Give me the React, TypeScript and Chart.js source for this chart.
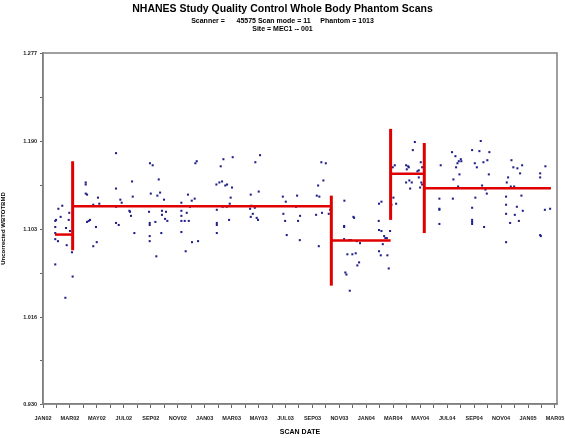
import { useEffect, useRef } from 'react';
import { Chart, registerables } from 'chart.js';

Chart.register(...registerables);

// x values: months since JAN 2002 (0 = JAN02, 38 = MAR05)
const monthLabels = ['JAN02', 'MAR02', 'MAY02', 'JUL02', 'SEP02', 'NOV02', 'JAN03', 'MAR03', 'MAY03', 'JUL03',
  'SEP03', 'NOV03', 'JAN04', 'MAR04', 'MAY04', 'JUL04', 'SEP04', 'NOV04', 'JAN05', 'MAR05'];
const yMajorTicks = [0.930, 1.016, 1.103, 1.190, 1.277];

const months2002 = [
  5.42, 7.94, 8.14, 11.41, 11.31, 3.17, 3.17, 6.61, 8.59, 5.42,
  3.17, 3.27, 4.08, 6.66, 8.00, 8.49, 8.69, 10.76, 5.74, 5.84,
  8.98, 11.26, 11.04, 10.27, 10.91, 3.73, 4.18, 5.42, 1.43, 1.14,
  1.31, 0.97, 0.91, 1.95, 1.91, 6.41, 6.46, 6.53, 7.87, 8.83,
  9.13, 8.83, 9.06, 9.23, 10.27, 10.67, 10.27, 3.49, 3.39, 3.27,
  5.42, 5.62, 7.92, 7.92, 8.34, 10.27, 10.52, 10.82, 3.93, 0.91,
  1.71, 2.00, 6.78, 8.78, 10.27, 0.91, 0.91, 1.11, 7.92, 7.92,
  3.99, 11.06, 11.51, 1.76, 3.73, 2.15, 10.59, 8.41, 0.91, 2.20,
  1.66,
];
const bmd2002 = [
  1.178, 1.168, 1.166, 1.170, 1.168, 1.149, 1.147, 1.150, 1.152, 1.143,
  1.138, 1.137, 1.134, 1.135, 1.138, 1.136, 1.139, 1.137, 1.132, 1.129,
  1.132, 1.133, 1.131, 1.129, 1.125, 1.127, 1.128, 1.125, 1.126, 1.123,
  1.115, 1.112, 1.111, 1.119, 1.112, 1.121, 1.120, 1.116, 1.120, 1.121,
  1.120, 1.117, 1.113, 1.111, 1.121, 1.119, 1.116, 1.112, 1.111, 1.110,
  1.109, 1.107, 1.109, 1.107, 1.110, 1.111, 1.111, 1.111, 1.105, 1.105,
  1.104, 1.101, 1.099, 1.099, 1.100, 1.099, 1.093, 1.091, 1.096, 1.091,
  1.090, 1.090, 1.091, 1.087, 1.086, 1.080, 1.081, 1.076, 1.068, 1.056,
  1.035,
];

const months2003 = [
  13.39, 14.08, 16.11, 15.76, 13.19, 20.66, 20.99, 12.87, 13.09, 13.29,
  13.53, 13.66, 14.03, 15.42, 16.01, 20.42, 20.81, 17.80, 18.02, 18.86,
  20.32, 20.51, 13.93, 13.86, 13.64, 13.34, 12.90, 15.46, 15.72, 15.37,
  18.78, 15.57, 15.42, 15.86, 15.96, 13.81, 17.84, 17.97, 19.08, 18.93,
  20.27, 20.71, 21.21, 21.31, 12.90, 12.90, 12.90, 18.09, 19.06, 20.47,
  22.37, 23.04, 23.09, 22.35, 22.35, 22.35, 22.72, 22.87, 23.29, 23.53,
  22.59, 22.96, 23.21, 23.46, 23.33, 22.44, 22.52, 22.77,
];
const bmd2003 = [
  1.172, 1.174, 1.176, 1.169, 1.165, 1.169, 1.168, 1.147, 1.149, 1.150,
  1.146, 1.147, 1.144, 1.137, 1.140, 1.146, 1.151, 1.135, 1.130, 1.136,
  1.136, 1.135, 1.134, 1.128, 1.125, 1.125, 1.122, 1.126, 1.124, 1.123,
  1.125, 1.118, 1.115, 1.114, 1.112, 1.112, 1.118, 1.111, 1.116, 1.111,
  1.117, 1.119, 1.118, 1.122, 1.109, 1.107, 1.099, 1.097, 1.092, 1.086,
  1.131, 1.115, 1.114, 1.106, 1.105, 1.093, 1.092, 1.092, 1.091, 1.089,
  1.078, 1.078, 1.079, 1.070, 1.067, 1.060, 1.058, 1.042,
];

const months2004 = [
  27.60, 27.45, 25.96, 26.11, 26.95, 27.10, 27.00, 27.15, 27.79, 27.89,
  28.04, 28.14, 27.89, 26.95, 27.19, 27.37, 28.08, 28.14, 27.25, 27.99,
  26.01, 26.21, 25.86, 24.94, 25.12, 24.92, 24.94, 25.12, 25.76, 25.32,
  25.41, 25.52, 25.22, 24.94, 25.07, 25.56, 25.66, 29.52, 30.36, 30.61,
  30.76, 30.86, 31.01, 31.05, 30.66, 30.91, 30.46, 30.81, 30.42, 29.42,
  29.42, 29.42, 29.42, 31.85, 32.49, 32.39, 33.13, 32.05, 32.20, 32.69,
  32.98, 33.09, 32.59, 32.84, 32.94, 32.09, 31.85, 31.85, 31.85, 31.85,
  32.74, 34.77, 34.91, 35.21, 35.56, 35.41, 34.52, 34.42, 34.72, 34.97,
  35.51, 34.37, 34.37, 35.17, 35.61, 34.37, 35.02, 35.32, 34.67, 34.37,
  36.90, 36.90, 37.29, 37.25, 37.64, 36.90, 36.95,
];
const bmd2004 = [
  1.189, 1.181, 1.164, 1.166, 1.166, 1.165, 1.162, 1.164, 1.160, 1.161,
  1.169, 1.164, 1.154, 1.149, 1.151, 1.149, 1.149, 1.147, 1.143, 1.144,
  1.134, 1.128, 1.127, 1.128, 1.130, 1.111, 1.102, 1.101, 1.101, 1.096,
  1.094, 1.094, 1.088, 1.081, 1.077, 1.077, 1.064, 1.166, 1.179, 1.175,
  1.168, 1.170, 1.172, 1.170, 1.164, 1.157, 1.152, 1.145, 1.133, 1.133,
  1.123, 1.122, 1.108, 1.181, 1.190, 1.180, 1.179, 1.168, 1.164, 1.169,
  1.171, 1.157, 1.146, 1.142, 1.138, 1.134, 1.124, 1.112, 1.110, 1.108,
  1.105, 1.171, 1.164, 1.163, 1.166, 1.158, 1.154, 1.149, 1.145, 1.145,
  1.136, 1.135, 1.127, 1.125, 1.121, 1.118, 1.117, 1.111, 1.109, 1.090,
  1.158, 1.154, 1.165, 1.122, 1.123, 1.097, 1.096,
];

// mean level segments and change points
const segmentStart = [0.89, 2.2, 21.4, 25.8, 28.3];
const segmentEnd = [2.2, 21.4, 25.8, 28.3, 37.7];
const segmentMean = [1.0975, 1.1256, 1.0916, 1.1577, 1.1434];
const changeMonth = [2.2, 21.4, 25.8, 28.3];
const changeLow = [1.082, 1.047, 1.112, 1.099];
const changeHigh = [1.170, 1.136, 1.202, 1.188];

const FONT = "'Liberation Sans', Arial, Helvetica, sans-serif";
const RED = '#e00000';
const BLUE = '#20208a';

export default function App() {
  const ref = useRef<HTMLCanvasElement>(null);

  useEffect(() => {
    document.body.style.margin = '0';
    const canvas = ref.current;
    if (!canvas) return;

    const toPts = (ms: number[], vs: number[]) => ms.map((m, i) => ({ x: m, y: vs[i] }));
    const scatterPts = [
      ...toPts(months2002, bmd2002),
      ...toPts(months2003, bmd2003),
      ...toPts(months2004, bmd2004),
    ];

    const yAllTicks: number[] = [];
    yMajorTicks.forEach((v, i) => {
      yAllTicks.push(v);
      if (i < yMajorTicks.length - 1) yAllTicks.push((v + yMajorTicks[i + 1]) / 2);
    });

    const segDatasets = segmentMean.map((m, i) => ({
      type: 'line' as const,
      data: [{ x: segmentStart[i], y: m }, { x: segmentEnd[i], y: m }],
      borderColor: RED,
      borderWidth: 2.5,
      pointRadius: 0,
      showLine: true,
      order: 0,
    }));
    const changeDatasets = changeMonth.map((c, i) => ({
      type: 'line' as const,
      data: [{ x: c, y: changeLow[i] }, { x: c, y: changeHigh[i] }],
      borderColor: RED,
      borderWidth: 3,
      pointRadius: 0,
      showLine: true,
      order: 0,
    }));

    const framePlugin = {
      id: 'frame',
      afterDatasetsDraw(chart: any) {
        const { ctx, chartArea: a } = chart;
        ctx.save();
        ctx.strokeStyle = '#808080';
        ctx.lineWidth = 1.5;
        ctx.strokeRect(a.left, a.top, a.right - a.left, a.bottom - a.top);
        ctx.restore();
      },
    };

    const titlePlugin = {
      id: 'titles',
      afterDraw(chart: any) {
        const { ctx } = chart;
        const cx = chart.width / 2;
        ctx.save();
        ctx.fillStyle = '#000';
        ctx.textAlign = 'center';
        ctx.textBaseline = 'middle';
        ctx.font = `bold 10.5px ${FONT}`;
        ctx.fillText('NHANES Study Quality Control Whole Body Phantom Scans', cx, 9);
        ctx.font = `bold 7px ${FONT}`;
        ctx.fillText('Scanner =      45575 Scan mode = 11     Phantom = 1013', cx, 21.5);
        ctx.fillText('Site = MEC1 -- 001', cx, 29.5);
        ctx.restore();
      },
    };

    const chart = new Chart(canvas, {
      type: 'scatter',
      data: {
        datasets: [
          ...segDatasets,
          ...changeDatasets,
          {
            type: 'scatter' as const,
            data: scatterPts,
            backgroundColor: BLUE,
            borderWidth: 0,
            pointStyle: 'rect',
            pointRadius: 1.45,
            order: 1,
          },
        ] as any,
      },
      options: {
        responsive: false,
        animation: false,
        layout: { padding: { top: 53, right: 8, left: 0, bottom: 0 } },
        plugins: {
          legend: { display: false },
          tooltip: { enabled: false },
          title: { display: false },
        },
        scales: {
          x: {
            type: 'linear',
            min: 0,
            max: 38.15,
            afterFit: (s: any) => {
              s.height = 34;
              s.paddingLeft = 0;
              s.paddingRight = 0;
            },
            afterBuildTicks: (s: any) => {
              s.ticks = Array.from({ length: 39 }, (_, i) => ({ value: i }));
            },
            ticks: {
              autoSkip: false,
              maxRotation: 0,
              minRotation: 0,
              padding: 7,
              color: '#222',
              font: { family: FONT, size: 5.5, weight: 'bold' },
              callback: (v: any) => (Number(v) % 2 === 0 ? monthLabels[Number(v) / 2] : ''),
            },
            grid: { display: true, drawOnChartArea: false, drawTicks: true, tickLength: 4, color: '#666', lineWidth: 1 },
            border: { display: true, color: '#808080', width: 1.5 },
            title: {
              display: true,
              text: 'SCAN DATE',
              color: '#000',
              font: { family: FONT, size: 7, weight: 'bold' },
              padding: { top: 2, bottom: 2 },
            },
          },
          y: {
            type: 'linear',
            min: 0.930,
            max: 1.277,
            afterFit: (s: any) => {
              s.width = 43;
              s.paddingTop = 0;
              s.paddingBottom = 0;
            },
            afterBuildTicks: (s: any) => {
              s.ticks = yAllTicks.map((v) => ({ value: v }));
            },
            ticks: {
              autoSkip: false,
              padding: 3,
              color: '#222',
              font: { family: FONT, size: 5.5, weight: 'bold' },
              callback: (v: any) => {
                const n = Number(v);
                return yMajorTicks.some((t) => Math.abs(t - n) < 1e-6) ? n.toFixed(3) : '';
              },
            },
            grid: { display: true, drawOnChartArea: false, drawTicks: true, tickLength: 3, color: '#666', lineWidth: 1 },
            border: { display: true, color: '#808080', width: 1.5 },
            title: {
              display: true,
              text: 'Uncorrected WBTOTBMD',
              color: '#000',
              font: { family: FONT, size: 6, weight: 'bold' },
              padding: { top: 0, bottom: 0 },
            },
          },
        },
      } as any,
      plugins: [framePlugin, titlePlugin],
    });

    return () => chart.destroy();
  }, []);

  return (
    <div style={{ position: 'absolute', left: 0, top: 0, width: 565, height: 438, background: '#fff' }}>
      <canvas ref={ref} width={565} height={438} style={{ display: 'block', width: 565, height: 438 }} />
    </div>
  );
}
